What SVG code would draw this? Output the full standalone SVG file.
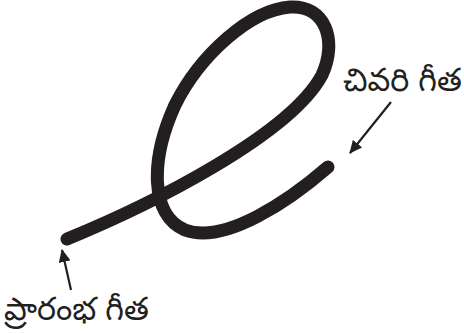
<svg xmlns="http://www.w3.org/2000/svg" width="464" height="334" viewBox="0 0 464 334">
<style>
.curve{fill:none;stroke:#231f20;stroke-width:13;stroke-linecap:round;stroke-linejoin:round}
.arr{fill:none;stroke:#231f20;stroke-width:2.2}
.lbl{font-family:"Noto Sans Telugu","Noto Sans","DejaVu Sans",sans-serif;font-size:32px;fill:#231f20}
</style>
<defs>
<marker id="ah" markerWidth="13" markerHeight="12" refX="12" refY="6" orient="auto" markerUnits="userSpaceOnUse" viewBox="0 0 13 12">
<path d="M0,0 L13,6 L0,12 Z" fill="#231f20"/>
</marker>
</defs>
<g id="loop">
<path class="curve" d="M67,239 C150,205 290,135 322,75 C338,40 325,5 290,7 C250,10 200,55 175,105 C150,160 150,215 185,230 C225,245 290,200 328,167"/>
</g>
<g id="connectors">
<line class="arr" x1="391" y1="102" x2="350" y2="153" marker-end="url(#ah)"/>
<line class="arr" x1="71" y1="290" x2="62" y2="250" marker-end="url(#ah)"/>
</g>
<g id="end-label">
<text class="lbl" x="343" y="91">చివరి గీత</text>
</g>
<g id="start-label">
<text class="lbl" x="4" y="320">ప్రారంభ గీత</text>
</g>
</svg>
